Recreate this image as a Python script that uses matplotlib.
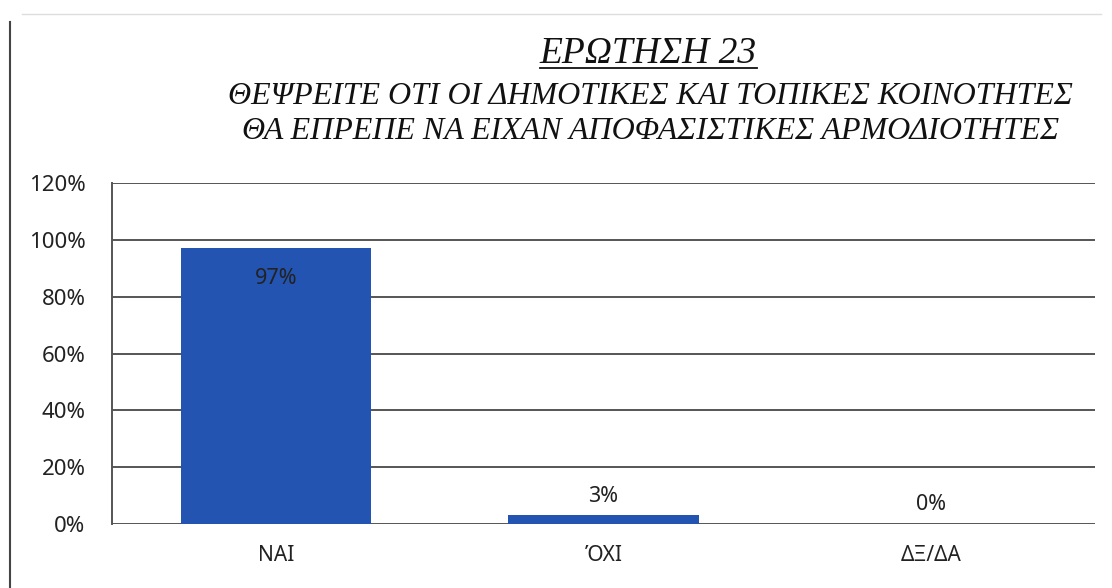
import numpy as np
import matplotlib
matplotlib.use("Agg")
import matplotlib.pyplot as plt
from matplotlib.lines import Line2D

# data
categories = ["ΝΑΙ", "ΌΧΙ", "ΔΞ/ΔΑ"]
values = [97, 3, 0]
value_labels = ["97%", "3%", "0%"]
yticks = [0, 20, 40, 60, 80, 100, 120]
title = "ΕΡΩΤΗΣΗ 23"
subtitle = ["ΘΕΨΡΕΙΤΕ ΟΤΙ ΟΙ ΔΗΜΟΤΙΚΕΣ ΚΑΙ ΤΟΠΙΚΕΣ ΚΟΙΝΟΤΗΤΕΣ",
            "ΘΑ ΕΠΡΕΠΕ ΝΑ ΕΙΧΑΝ ΑΠΟΦΑΣΙΣΤΙΚΕΣ ΑΡΜΟΔΙΟΤΗΤΕΣ"]

plt.rcParams['font.family'] = ['Noto Sans', 'DejaVu Sans']
bar_color = "#2454b2"
text_color = "#222222"

fig = plt.figure(figsize=(11.12, 5.88), dpi=100)
ax = fig.add_axes([0.1007, 0.1088, 0.884, 0.58])

x = np.arange(len(categories))
ax.bar(x, values, width=0.58, color=bar_color, zorder=3)
ax.set_xlim(-0.5, len(categories) - 0.5)
ax.set_ylim(0, 120)
ax.set_yticks(yticks)
ax.set_yticklabels([f"{t}%" for t in yticks], fontsize=16, color=text_color)
ax.set_xticks(x)
ax.set_xticklabels(categories, fontsize=15, color=text_color)
ax.tick_params(axis='both', length=0)
ax.tick_params(axis='y', pad=19)
ax.tick_params(axis='x', pad=15)
ax.grid(axis='y', color="#555555", linewidth=1.4, zorder=0)
for s in ['top', 'right', 'bottom']:
    ax.spines[s].set_visible(False)
ax.spines['left'].set_color("#555555")
ax.spines['left'].set_linewidth(1.4)

# data labels
for xi, v, lab in zip(x, values, value_labels):
    if v > 50:
        ax.annotate(lab, (xi, v), xytext=(0, -22), textcoords='offset points',
                    ha='center', va='center', fontsize=15.5, color=text_color)
    else:
        ax.annotate(lab, (xi, v), xytext=(0, 14), textcoords='offset points',
                    ha='center', va='center', fontsize=15.5, color=text_color)

# titles
serif = ['Liberation Serif', 'DejaVu Serif']
t = fig.text(0.583, 0.893, title, ha='center', va='baseline', fontsize=27,
             style='italic', family=serif, color="#111111")
fig.text(0.585, 0.823, subtitle[0], ha='center', va='baseline', fontsize=23,
         style='italic', family=serif, color="#111111")
fig.text(0.585, 0.764, subtitle[1], ha='center', va='baseline', fontsize=23,
         style='italic', family=serif, color="#111111")

# underline under the title
r = fig.canvas.get_renderer()
bb = t.get_window_extent(renderer=r).transformed(fig.transFigure.inverted())
fig.add_artist(Line2D([bb.x0, bb.x1], [0.885, 0.885], color="#111111", lw=1.3))

# page frame remnants
fig.add_artist(Line2D([0.009, 0.009], [0.0, 0.963], color="#444444", lw=1.5))
fig.add_artist(Line2D([0.02, 0.99], [0.977, 0.977], color="#dddddd", lw=1.0))

fig.savefig("out.png", dpi=100)
